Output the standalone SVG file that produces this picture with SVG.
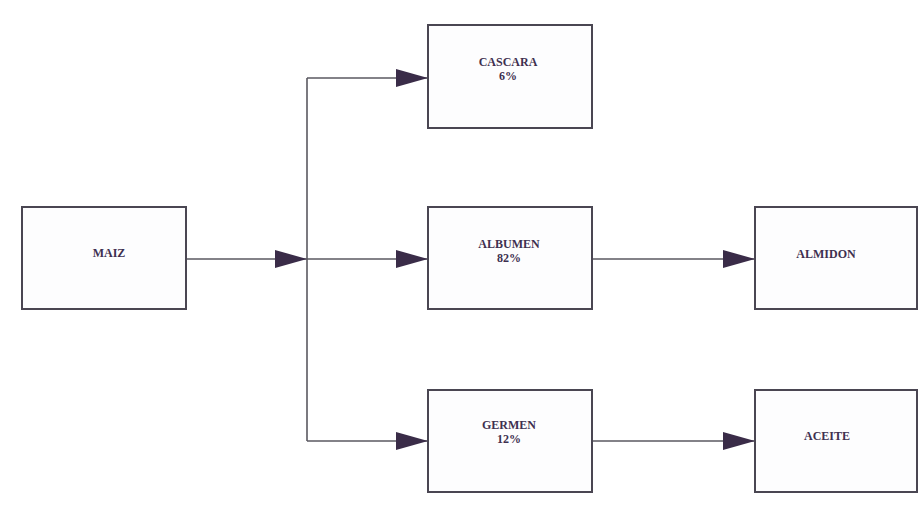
<svg xmlns="http://www.w3.org/2000/svg" width="918" height="508" viewBox="0 0 918 508">
<defs>
<style>
.box{fill:#fdfdfe;stroke:#4a4652;stroke-width:2}
.lbl{font-family:"Liberation Serif","DejaVu Serif",serif;font-weight:bold;font-size:12px;fill:#3e3050;text-anchor:middle}
.ln{fill:none;stroke:#5a5860;stroke-width:1.6}
</style>
<marker id="ah" viewBox="0 0 32 18" refX="32" refY="9" markerWidth="32" markerHeight="18" markerUnits="userSpaceOnUse" orient="auto">
<path d="M0,0 L32,9 L0,18 Z" fill="#3a2c48"/>
</marker>
</defs>
<rect width="918" height="508" fill="#ffffff"/>
<g id="connectors">
<path class="ln" d="M186,259 H307" marker-end="url(#ah)"/>
<path class="ln" d="M307,78 V441"/>
<path class="ln" d="M307,78 H428" marker-end="url(#ah)"/>
<path class="ln" d="M307,259 H428" marker-end="url(#ah)"/>
<path class="ln" d="M307,441 H428" marker-end="url(#ah)"/>
<path class="ln" d="M592,259 H755" marker-end="url(#ah)"/>
<path class="ln" d="M592,441 H755" marker-end="url(#ah)"/>
</g>
<g id="maiz">
<rect class="box" x="22" y="207" width="164" height="102"/>
<text class="lbl" x="109" y="257">MAIZ</text>
</g>
<g id="cascara">
<rect class="box" x="428" y="25" width="164" height="103"/>
<text class="lbl" x="508" y="66">CASCARA</text>
<text class="lbl" x="508" y="80">6%</text>
</g>
<g id="albumen">
<rect class="box" x="428" y="207" width="164" height="102"/>
<text class="lbl" x="509" y="248">ALBUMEN</text>
<text class="lbl" x="509" y="262">82%</text>
</g>
<g id="germen">
<rect class="box" x="428" y="390" width="164" height="102"/>
<text class="lbl" x="509" y="429">GERMEN</text>
<text class="lbl" x="509" y="443">12%</text>
</g>
<g id="almidon">
<rect class="box" x="755" y="207" width="162" height="102"/>
<text class="lbl" x="826" y="258">ALMIDON</text>
</g>
<g id="aceite">
<rect class="box" x="755" y="390" width="162" height="102"/>
<text class="lbl" x="827" y="440">ACEITE</text>
</g>
</svg>
